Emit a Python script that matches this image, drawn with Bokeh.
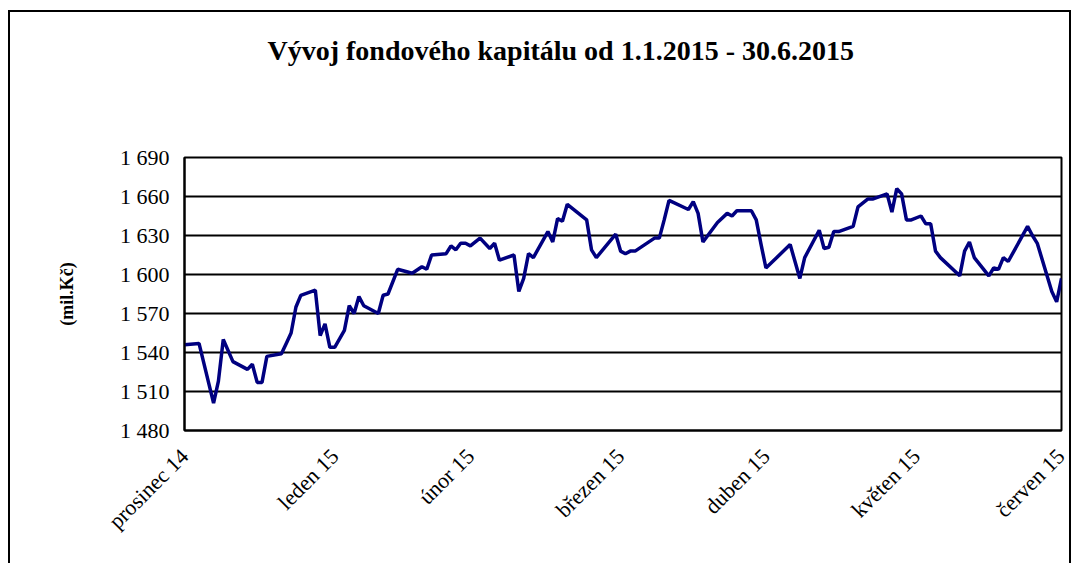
import math
import pandas as pd
from bokeh.plotting import figure
from bokeh.models import FixedTicker, Title
from bokeh.embed import file_html
from bokeh.resources import INLINE

# ---- data ----
dates = [
    "2014-12-31", "2015-01-03", "2015-01-06", "2015-01-07", "2015-01-08", "2015-01-10",
    "2015-01-13", "2015-01-14", "2015-01-15", "2015-01-16", "2015-01-17", "2015-01-20",
    "2015-01-21", "2015-01-22", "2015-01-23", "2015-01-24", "2015-01-27", "2015-01-28",
    "2015-01-29", "2015-01-30", "2015-01-31", "2015-02-02", "2015-02-03", "2015-02-04",
    "2015-02-05", "2015-02-06", "2015-02-09", "2015-02-10", "2015-02-11", "2015-02-13",
    "2015-02-16", "2015-02-18", "2015-02-19", "2015-02-20", "2015-02-23", "2015-02-24",
    "2015-02-25", "2015-02-26", "2015-02-27", "2015-02-28", "2015-03-02", "2015-03-04",
    "2015-03-05", "2015-03-06", "2015-03-09", "2015-03-10", "2015-03-11", "2015-03-12",
    "2015-03-13", "2015-03-16", "2015-03-17", "2015-03-18", "2015-03-19", "2015-03-20",
    "2015-03-24", "2015-03-25", "2015-03-26", "2015-03-30", "2015-03-31", "2015-04-01",
    "2015-04-02", "2015-04-03", "2015-04-07", "2015-04-08", "2015-04-09", "2015-04-10",
    "2015-04-14", "2015-04-15", "2015-04-16", "2015-04-17", "2015-04-20", "2015-04-22",
    "2015-04-23", "2015-04-24", "2015-04-27", "2015-04-28", "2015-04-29", "2015-04-30",
    "2015-05-05", "2015-05-07", "2015-05-08", "2015-05-11", "2015-05-12", "2015-05-13",
    "2015-05-14", "2015-05-15", "2015-05-18", "2015-05-19", "2015-05-21", "2015-05-22",
    "2015-05-25", "2015-05-26", "2015-05-27", "2015-05-28", "2015-05-29", "2015-05-30",
    "2015-06-01", "2015-06-02", "2015-06-03", "2015-06-04", "2015-06-05", "2015-06-09",
    "2015-06-10", "2015-06-11", "2015-06-12", "2015-06-15", "2015-06-16", "2015-06-17",
    "2015-06-18", "2015-06-19", "2015-06-23", "2015-06-24", "2015-06-25", "2015-06-28",
    "2015-06-29", "2015-06-30",
]
kapital = [
    1546, 1547, 1501, 1518, 1550, 1533,
    1527, 1531, 1517, 1517, 1537, 1539,
    1547, 1555, 1575, 1584, 1588, 1553,
    1562, 1544, 1544, 1557, 1576, 1570,
    1583, 1576, 1570, 1584, 1585, 1604,
    1601, 1606, 1604, 1615, 1616, 1622,
    1619, 1624, 1624, 1622, 1628, 1620,
    1624, 1611, 1615, 1587, 1597, 1616,
    1613, 1633, 1625, 1643, 1641, 1654,
    1642, 1619, 1613, 1631, 1618, 1616,
    1618, 1618, 1628, 1628, 1642, 1657,
    1650, 1656, 1647, 1625, 1640, 1647,
    1645, 1649, 1649, 1642, 1623, 1605,
    1623, 1597, 1613, 1634, 1620, 1621,
    1633, 1633, 1637, 1652, 1658, 1658,
    1662, 1648, 1666, 1662, 1642, 1642,
    1645, 1639, 1639, 1618, 1613, 1599,
    1618, 1625, 1613, 1599, 1605, 1604,
    1613, 1610, 1637, 1630, 1624, 1587,
    1579, 1597,
]
month_ticks = ["2014-12-31", "2015-01-31", "2015-02-28", "2015-03-31",
               "2015-04-30", "2015-05-31", "2015-06-30"]
month_labels = ["prosinec 14", "leden 15", "únor 15", "březen 15",
                "duben 15", "květen 15", "červen 15"]
y_ticks = [1480, 1510, 1540, 1570, 1600, 1630, 1660, 1690]
title_text = "Vývoj fondového kapitálu od 1.1.2015 - 30.6.2015"
y_label = "(mil.Kč)"

# ---- convert dates to day offsets ----
origin = pd.Timestamp("2014-12-31")
xs = [(pd.Timestamp(d) - origin).days for d in dates]
tick_days = [(pd.Timestamp(d) - origin).days for d in month_ticks]

FONT = "Liberation Serif"

p = figure(width=1063, height=553, output_backend="svg", toolbar_location=None,
           x_range=(tick_days[0], tick_days[-1]), y_range=(y_ticks[0], y_ticks[-1]),
           min_border_left=174, min_border_right=12, min_border_top=145,
           min_border_bottom=135,
           background_fill_color="white", border_fill_color="white",
           styles={"margin-left": "8px", "margin-top": "10px",
                   "border-left": "2px solid black", "border-top": "2px solid black",
                   "border-right": "2px solid black"})
p.title = None
t = Title(text=title_text, align="left", offset=83, standoff=10,
          padding=dict(left=0, right=0, top=0, bottom=87),
          text_font=FONT, text_font_size="28px", text_font_style="bold",
          text_color="black")
p.add_layout(t, "above")

p.line(xs, kapital, line_color="#000080", line_width=3.5)

# axes
p.xaxis.ticker = FixedTicker(ticks=tick_days)
p.xaxis.major_label_overrides = {d: l for d, l in zip(tick_days, month_labels)}
p.xaxis.major_label_orientation = math.pi / 4
p.yaxis.ticker = FixedTicker(ticks=y_ticks)
p.yaxis.major_label_overrides = {v: f"{v // 1000} {v % 1000:03d}" for v in y_ticks}

for ax in (p.xaxis, p.yaxis):
    ax.axis_line_color = "black"
    ax.axis_line_width = 2
    ax.major_tick_line_color = None
    ax.minor_tick_line_color = None
    ax.major_tick_out = 0
    ax.major_tick_in = 0
    ax.major_label_text_font = FONT
    ax.major_label_text_font_size = "22px"
    ax.major_label_text_color = "black"

p.xaxis.major_label_standoff = 22
p.yaxis.major_label_standoff = 15
p.yaxis.axis_label = y_label
p.yaxis.axis_label_text_font = FONT
p.yaxis.axis_label_text_font_size = "18px"
p.yaxis.axis_label_text_font_style = "bold"
p.yaxis.axis_label_text_color = "black"
p.yaxis.axis_label_standoff = 40

p.xgrid.grid_line_color = None
p.ygrid.grid_line_color = "black"
p.ygrid.grid_line_width = 2

p.outline_line_color = "black"
p.outline_line_width = 2
p.outline_line_alpha = 1

open("out.html", "w").write(file_html(p, INLINE))
